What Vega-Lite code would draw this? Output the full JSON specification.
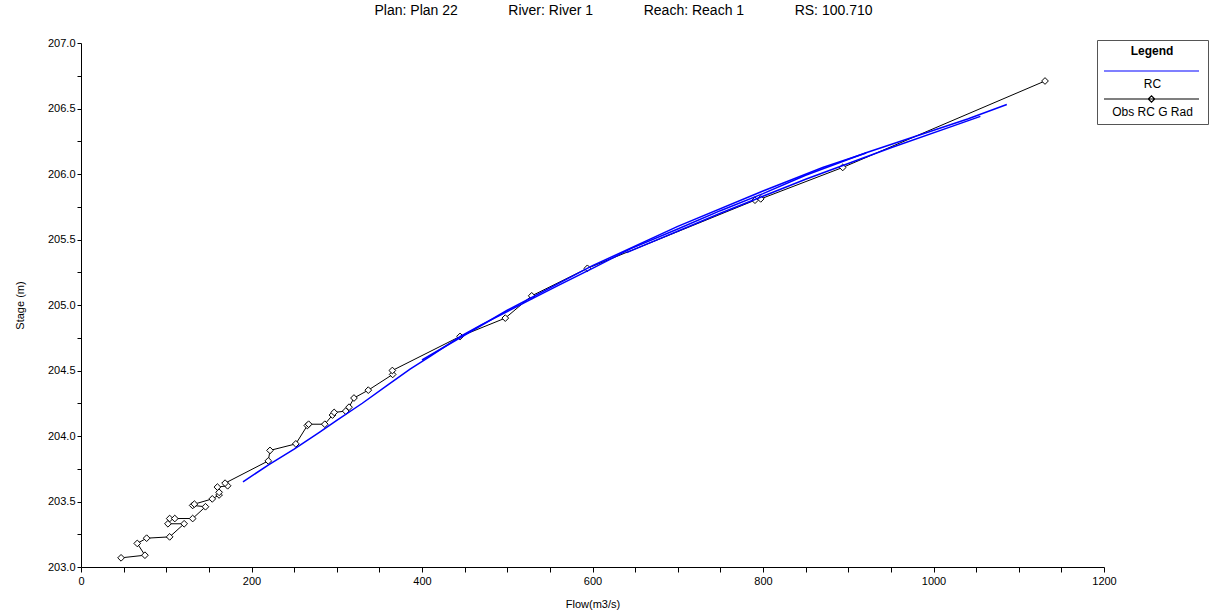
{
  "$schema": "https://vega.github.io/schema/vega-lite/v6.json",
  "width": 1023,
  "height": 524,
  "autosize": {"type": "none"},
  "padding": {"left": 81, "top": 43, "right": 108, "bottom": 45},
  "background": "white",
  "config": {"view": {"stroke": null}, "font": "Liberation Sans"},
  "title": {
    "text": "Plan: Plan 22\u00a0\u00a0\u00a0\u00a0\u00a0\u00a0\u00a0\u00a0\u00a0\u00a0\u00a0\u00a0\u00a0River: River 1\u00a0\u00a0\u00a0\u00a0\u00a0\u00a0\u00a0\u00a0\u00a0\u00a0\u00a0\u00a0\u00a0Reach: Reach 1\u00a0\u00a0\u00a0\u00a0\u00a0\u00a0\u00a0\u00a0\u00a0\u00a0\u00a0\u00a0\u00a0RS: 100.710",
    "fontSize": 14,
    "fontWeight": "normal",
    "color": "#000000",
    "anchor": "middle",
    "offset": 19,
    "dx": 31
  },
  "datasets": {
    "rc": [
      {"flow": 190, "stage": 203.65, "curve": "a", "series": "RC"},
      {"flow": 220, "stage": 203.78, "curve": "a", "series": "RC"},
      {"flow": 250, "stage": 203.9, "curve": "a", "series": "RC"},
      {"flow": 280, "stage": 204.03, "curve": "a", "series": "RC"},
      {"flow": 300, "stage": 204.12, "curve": "a", "series": "RC"},
      {"flow": 330, "stage": 204.25, "curve": "a", "series": "RC"},
      {"flow": 360, "stage": 204.39, "curve": "a", "series": "RC"},
      {"flow": 386, "stage": 204.51, "curve": "a", "series": "RC"},
      {"flow": 410, "stage": 204.61, "curve": "a", "series": "RC"},
      {"flow": 445, "stage": 204.76, "curve": "a", "series": "RC"},
      {"flow": 470, "stage": 204.85, "curve": "a", "series": "RC"},
      {"flow": 500, "stage": 204.95, "curve": "a", "series": "RC"},
      {"flow": 530, "stage": 205.05, "curve": "a", "series": "RC"},
      {"flow": 560, "stage": 205.15, "curve": "a", "series": "RC"},
      {"flow": 600, "stage": 205.28, "curve": "a", "series": "RC"},
      {"flow": 645, "stage": 205.43, "curve": "a", "series": "RC"},
      {"flow": 700, "stage": 205.58, "curve": "a", "series": "RC"},
      {"flow": 750, "stage": 205.72, "curve": "a", "series": "RC"},
      {"flow": 800, "stage": 205.85, "curve": "a", "series": "RC"},
      {"flow": 850, "stage": 205.99, "curve": "a", "series": "RC"},
      {"flow": 920, "stage": 206.16, "curve": "a", "series": "RC"},
      {"flow": 980, "stage": 206.29, "curve": "a", "series": "RC"},
      {"flow": 1040, "stage": 206.42, "curve": "a", "series": "RC"},
      {"flow": 1086, "stage": 206.53, "curve": "a", "series": "RC"},
      {"flow": 400, "stage": 204.58, "curve": "b", "series": "RC"},
      {"flow": 500, "stage": 204.96, "curve": "b", "series": "RC"},
      {"flow": 600, "stage": 205.3, "curve": "b", "series": "RC"},
      {"flow": 700, "stage": 205.6, "curve": "b", "series": "RC"},
      {"flow": 800, "stage": 205.87, "curve": "b", "series": "RC"},
      {"flow": 870, "stage": 206.05, "curve": "b", "series": "RC"},
      {"flow": 921, "stage": 206.16, "curve": "b", "series": "RC"},
      {"flow": 640, "stage": 205.4, "curve": "c", "series": "RC"},
      {"flow": 750, "stage": 205.7, "curve": "c", "series": "RC"},
      {"flow": 850, "stage": 205.96, "curve": "c", "series": "RC"},
      {"flow": 950, "stage": 206.2, "curve": "c", "series": "RC"},
      {"flow": 1020, "stage": 206.36, "curve": "c", "series": "RC"},
      {"flow": 1055, "stage": 206.44, "curve": "c", "series": "RC"}
    ],
    "obs": [
      {"seq": 1, "flow": 47, "stage": 203.07, "series": "Obs RC G Rad"},
      {"seq": 2, "flow": 75, "stage": 203.09, "series": "Obs RC G Rad"},
      {"seq": 3, "flow": 66, "stage": 203.18, "series": "Obs RC G Rad"},
      {"seq": 4, "flow": 77, "stage": 203.22, "series": "Obs RC G Rad"},
      {"seq": 5, "flow": 104, "stage": 203.23, "series": "Obs RC G Rad"},
      {"seq": 6, "flow": 121, "stage": 203.33, "series": "Obs RC G Rad"},
      {"seq": 7, "flow": 102, "stage": 203.33, "series": "Obs RC G Rad"},
      {"seq": 8, "flow": 104, "stage": 203.37, "series": "Obs RC G Rad"},
      {"seq": 9, "flow": 110, "stage": 203.37, "series": "Obs RC G Rad"},
      {"seq": 10, "flow": 131, "stage": 203.37, "series": "Obs RC G Rad"},
      {"seq": 11, "flow": 146, "stage": 203.46, "series": "Obs RC G Rad"},
      {"seq": 12, "flow": 131, "stage": 203.47, "series": "Obs RC G Rad"},
      {"seq": 13, "flow": 133, "stage": 203.48, "series": "Obs RC G Rad"},
      {"seq": 14, "flow": 154, "stage": 203.52, "series": "Obs RC G Rad"},
      {"seq": 15, "flow": 162, "stage": 203.55, "series": "Obs RC G Rad"},
      {"seq": 16, "flow": 162, "stage": 203.57, "series": "Obs RC G Rad"},
      {"seq": 17, "flow": 160, "stage": 203.61, "series": "Obs RC G Rad"},
      {"seq": 18, "flow": 172, "stage": 203.62, "series": "Obs RC G Rad"},
      {"seq": 19, "flow": 169, "stage": 203.64, "series": "Obs RC G Rad"},
      {"seq": 20, "flow": 219.7, "stage": 203.81, "series": "Obs RC G Rad"},
      {"seq": 21, "flow": 221.7, "stage": 203.89, "series": "Obs RC G Rad"},
      {"seq": 22, "flow": 252, "stage": 203.94, "series": "Obs RC G Rad"},
      {"seq": 23, "flow": 265.5, "stage": 204.08, "series": "Obs RC G Rad"},
      {"seq": 24, "flow": 267, "stage": 204.09, "series": "Obs RC G Rad"},
      {"seq": 25, "flow": 286, "stage": 204.09, "series": "Obs RC G Rad"},
      {"seq": 26, "flow": 295, "stage": 204.16, "series": "Obs RC G Rad"},
      {"seq": 27, "flow": 297, "stage": 204.18, "series": "Obs RC G Rad"},
      {"seq": 28, "flow": 310.5, "stage": 204.19, "series": "Obs RC G Rad"},
      {"seq": 29, "flow": 314.4, "stage": 204.22, "series": "Obs RC G Rad"},
      {"seq": 30, "flow": 320.2, "stage": 204.29, "series": "Obs RC G Rad"},
      {"seq": 31, "flow": 337, "stage": 204.35, "series": "Obs RC G Rad"},
      {"seq": 32, "flow": 365.6, "stage": 204.47, "series": "Obs RC G Rad"},
      {"seq": 33, "flow": 365.2, "stage": 204.5, "series": "Obs RC G Rad"},
      {"seq": 34, "flow": 444.6, "stage": 204.76, "series": "Obs RC G Rad"},
      {"seq": 35, "flow": 497.7, "stage": 204.9, "series": "Obs RC G Rad"},
      {"seq": 36, "flow": 528.7, "stage": 205.07, "series": "Obs RC G Rad"},
      {"seq": 37, "flow": 594, "stage": 205.28, "series": "Obs RC G Rad"},
      {"seq": 38, "flow": 790.6, "stage": 205.8, "series": "Obs RC G Rad"},
      {"seq": 39, "flow": 797.3, "stage": 205.81, "series": "Obs RC G Rad"},
      {"seq": 40, "flow": 893.5, "stage": 206.05, "series": "Obs RC G Rad"},
      {"seq": 41, "flow": 1130.8, "stage": 206.71, "series": "Obs RC G Rad"}
    ]
  },
  "encoding": {
    "x": {
      "field": "flow",
      "type": "quantitative",
      "scale": {"domain": [0, 1200], "nice": false, "zero": false},
      "axis": {
        "title": "Flow(m3/s)",
        "values": [0, 50, 100, 150, 200, 250, 300, 350, 400, 450, 500, 550, 600, 650, 700, 750, 800, 850, 900, 950, 1000, 1050, 1100, 1150, 1200],
        "labelExpr": "datum.value % 200 == 0 ? format(datum.value, 'd') : ''",
        "grid": false,
        "domainColor": "#000000",
        "tickColor": "#000000",
        "tickSize": 5,
        "labelColor": "#000000",
        "labelFontSize": 11,
        "labelPadding": 3,
        "labelFlush": false,
        "labelOverlap": false,
        "titleColor": "#000000",
        "titleFontSize": 11,
        "titleFontWeight": "normal",
        "titlePadding": 12
      }
    },
    "y": {
      "field": "stage",
      "type": "quantitative",
      "scale": {"domain": [203, 207], "nice": false, "zero": false},
      "axis": {
        "title": "Stage (m)",
        "values": [203, 203.25, 203.5, 203.75, 204, 204.25, 204.5, 204.75, 205, 205.25, 205.5, 205.75, 206, 206.25, 206.5, 206.75, 207],
        "labelExpr": "(datum.value * 2) % 1 == 0 ? format(datum.value, '.1f') : ''",
        "grid": false,
        "domainColor": "#000000",
        "tickColor": "#000000",
        "tickSize": 4,
        "labelColor": "#000000",
        "labelFontSize": 11,
        "labelPadding": 2,
        "labelFlush": false,
        "labelOverlap": false,
        "titleColor": "#000000",
        "titleFontSize": 11,
        "titleFontWeight": "normal",
        "titlePadding": 22
      }
    }
  },
  "layer": [
    {
      "data": {"name": "obs"},
      "mark": {"type": "line", "strokeWidth": 1},
      "encoding": {
        "order": {"field": "seq", "type": "quantitative"},
        "color": {
          "field": "series",
          "type": "nominal",
          "scale": {"domain": ["RC", "Obs RC G Rad"], "range": ["#0000ff", "#000000"]},
          "legend": {
            "title": "Legend",
            "orient": "none",
            "legendX": 1016,
            "legendY": -3,
            "titleFontWeight": "bold",
            "titleFontSize": 12,
            "titleColor": "#000000",
            "titleAnchor": "middle",
            "titlePadding": 4,
            "strokeColor": "#555555",
            "fillColor": "white",
            "padding": 6,
            "symbolType": "stroke",
            "symbolSize": 256,
            "symbolStrokeWidth": 1.2,
            "labelFontSize": 12,
            "labelColor": "#000000",
            "labelAlign": "center",
            "labelOffset": 31.5,
            "rowPadding": -5,
            "encode": {
              "symbols": {"update": {
                "shape": {"signal": "datum.value === 'RC' ? 'M-1,0H10.875' : 'M-1,0H10.875M4.5375,0L4.9375,-0.4L5.3375,0L4.9375,0.4Z'"},
                "fill": {"value": "white"}
              }},
              "labels": {"update": {"dy": {"value": 13}}}
            }
          }
        }
      }
    },
    {
      "data": {"name": "obs"},
      "mark": {"type": "point", "shape": "diamond", "filled": true, "fill": "white", "stroke": "#000000", "strokeWidth": 1, "size": 45, "opacity": 1}
    },
    {
      "data": {"name": "rc"},
      "mark": {"type": "line", "strokeWidth": 1.5},
      "encoding": {
        "detail": {"field": "curve", "type": "nominal"},
        "color": {"field": "series", "type": "nominal"}
      }
    }
  ]
}
